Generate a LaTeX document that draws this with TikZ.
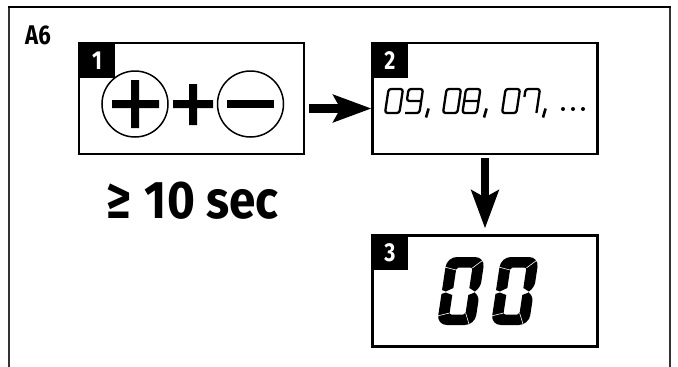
\documentclass[tikz,border=0pt]{standalone}
\usepackage{fontspec}
\setmainfont{Fira Sans}[FakeStretch=0.82]
\newfontfamily\wideface{Fira Sans}[FakeStretch=0.9]
\usetikzlibrary{arrows.meta,calc}
\tikzset{
  x=1pt,y=-1pt,
  stepbox/.style={draw=black,line width=2.2pt,fill=white,minimum width=225pt,minimum height=111pt,inner sep=0pt,outer sep=0pt},
  tag/.style={fill=black,text=white,minimum width=36pt,minimum height=35pt,inner sep=0pt,font=\bfseries\fontsize{26}{26}\selectfont},
  keyring/.style={circle,draw=black,line width=1.5pt,minimum size=66pt,inner sep=0pt},
  bar/.style={fill=black},
  flow/.style={line width=8.5pt,-{Stealth[length=38pt,width=27pt,inset=7pt]},black},
  lcd/.style={draw=black,line width=2.3pt,rounded corners=2.5pt,line join=round},
  sep/.style={draw=white,line width=0.6pt},
}
\newcommand\SmallZero[1]{\draw[lcd,shift={#1},xslant=.15] (0,0) rectangle (14.4,24);}
\newcommand\SmallEight[1]{\draw[lcd,shift={#1},xslant=.15] (0,0) rectangle (14.4,24) (0,12) -- (14.4,12);}
\newcommand\SmallNine[1]{\draw[lcd,shift={#1},xslant=.15] (14.4,12) -- (0,12) -- (0,0) -- (14.4,0) -- (14.4,24) -- (0,24);}
\newcommand\SmallSeven[1]{\draw[lcd,shift={#1},xslant=.15] (0,8) -- (0,0) -- (14.4,0) -- (14.4,24);}
\newcommand\Comma[1]{\draw[black,line width=2.6pt,shift={#1}] (2.6,0) -- (0,9);}
\newcommand\BigZero[1]{%
  \begin{scope}[shift={#1},xslant=.15]
    \fill[black] (0,33) [rounded corners=10pt] -- (0,0) -- (38,0) [rounded corners=6pt] -- (38,31) [sharp corners] -- (33,34.5) -- (27,31) [rounded corners=2pt] -- (27,10.5) -- (11,10.5) [sharp corners] -- (11,31) -- (4,34.5) -- cycle;
    \fill[black] (0,37) [rounded corners=10pt] -- (0,68) -- (38,68) [rounded corners=6pt] -- (38,38) [sharp corners] -- (33,35.5) -- (27,38) [rounded corners=2pt] -- (27,57.5) -- (11,57.5) [sharp corners] -- (11,38) -- (4,35.5) -- cycle;
    \draw[sep] (-1,10) -- (11,13);
    \draw[sep] (39,1) -- (27,11);
    \draw[sep] (-1,59) -- (11,56);
    \draw[sep] (27,56) -- (33,69);
  \end{scope}}
\begin{document}
\begin{tikzpicture}
\useasboundingbox (0,0) rectangle (678,367);
% outer frame (open at the bottom)
\draw[black!80,line width=1.4pt] (9,367) -- (9,7) (670,7) -- (670,367);
\draw[black,line width=1.5pt] (8.3,7) -- (670.7,7);
\node[anchor=base west,inner sep=0pt,font=\bfseries\fontsize{27}{27}\selectfont] (title) at (25,44) {A6};
% boxes
\node[stepbox] (b1) at (191.5,98.5) {};
\node[stepbox] (b2) at (485,98.5) {};
\node[stepbox] (b3) at (485,291) {};
\node[tag] (t1) at (97,60.5) {1};
\node[tag] (t2) at (390,60.5) {2};
\node[tag] (t3) at (390,252.5) {3};
% keys
\node[keyring] (plus) at (135,104) {};
\node[keyring] (minus) at (250.5,104) {};
\fill[bar] (112,100) rectangle (159,108) (131,80) rectangle (139,128);
\fill[bar] (173,100) rectangle (213,108) (189,84) rectangle (197,125);
\fill[bar] (227,99.5) rectangle (274,108);
\node[anchor=base west,inner sep=0pt,font=\wideface\bfseries\fontsize{53}{53}\selectfont] (time) at (106,218) {≥\hspace{14pt}10 sec};
% connectors
\draw[flow,shorten <=5pt,shorten >=1pt] ($(b1.east)+(0,10)$) -- ($(b2.west)+(0,10)$);
\draw[flow,shorten <=4pt,shorten >=7pt] (b2.south) -- (b3.north);
% small readout
\SmallZero{(388.6,89)}
\SmallNine{(408.6,89)}
\Comma{(426,108.5)}
\SmallZero{(446.6,89)}
\SmallEight{(466,89)}
\Comma{(484,108.5)}
\SmallZero{(505.6,89)}
\SmallSeven{(525.6,89)}
\Comma{(543,108.5)}
\fill[black] (563,109) circle (2) (573,109) circle (2) (583,109) circle (2);
% big readout
\BigZero{(447,257)}
\BigZero{(501,257)}
\end{tikzpicture}
\end{document}
